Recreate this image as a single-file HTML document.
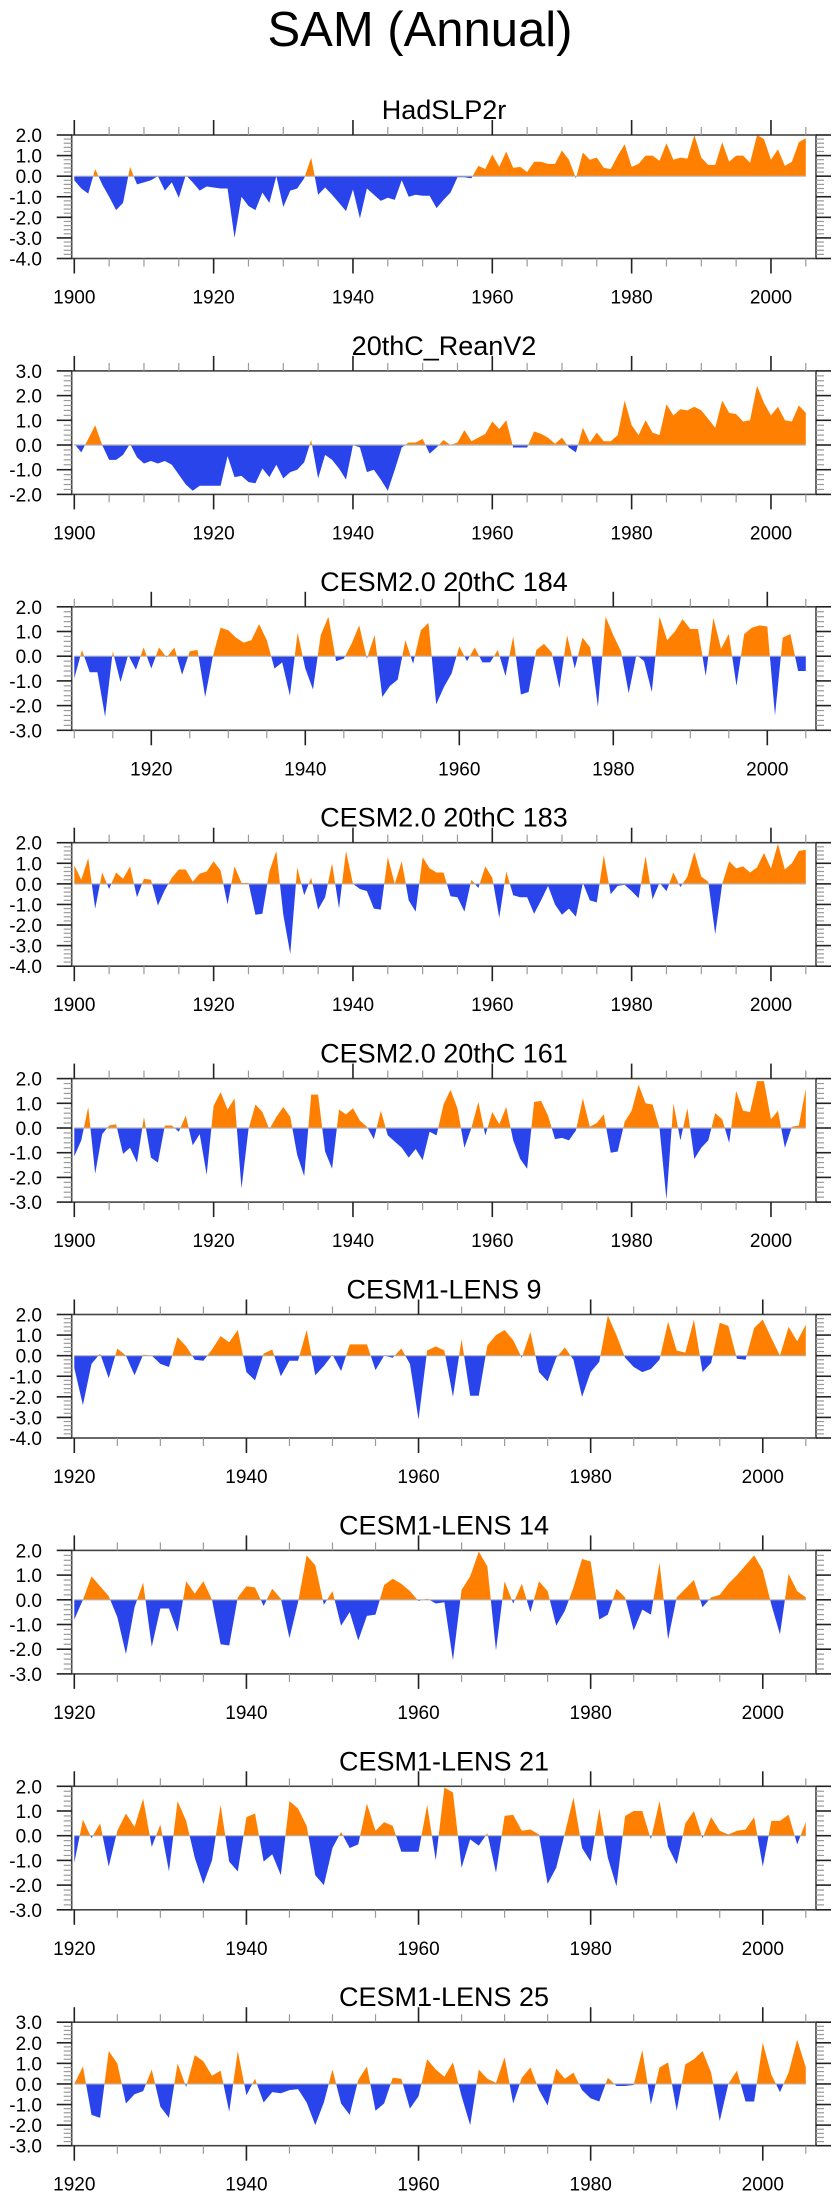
<!DOCTYPE html>
<html><head><meta charset="utf-8"><title>SAM (Annual)</title>
<style>
html,body{margin:0;padding:0;background:#fff;}
svg{display:block;font-family:"Liberation Sans",Arial,sans-serif;}
</style></head>
<body>
<svg id="chart" width="840" height="2200" viewBox="0 0 840 2200" xmlns="http://www.w3.org/2000/svg">
<text x="420" y="46" text-anchor="middle" font-size="49" fill="#000">SAM (Annual)</text>
</svg>
<script>
const titles = ["HadSLP2r","20thC_ReanV2","CESM2.0 20thC 184","CESM2.0 20thC 183","CESM2.0 20thC 161","CESM1-LENS 9","CESM1-LENS 14","CESM1-LENS 21","CESM1-LENS 25"];
const startYears = [1900,1900,1910,1900,1900,1920,1920,1920,1920];
const yMins = [-4,-2,-3,-4,-3,-4,-3,-3,-3];
const yMaxs = [2,3,2,2,2,2,2,2,3];
const xTickLabels = [1900,1920,1940,1960,1980,2000];

const hadslp2r = [-0.2,-0.6,-0.85,0.35,-0.4,-1.0,-1.65,-1.3,0.45,-0.4,-0.3,-0.2,0.0,-0.7,-0.3,-1.05,0.05,-0.3,-0.7,-0.5,-0.55,-0.6,-0.6,-3.0,-1.0,-1.45,-1.65,-0.8,-1.3,0.0,-1.5,-0.7,-0.6,-0.1,0.9,-0.9,-0.55,-0.9,-1.3,-1.7,-0.65,-2.05,-0.6,-0.9,-1.2,-1.05,-1.15,-0.2,-1.0,-0.9,-0.95,-0.95,-1.55,-1.15,-0.8,-0.05,-0.05,-0.1,0.5,0.35,1.05,0.45,1.2,0.4,0.45,0.2,0.7,0.7,0.6,0.6,1.25,0.8,-0.1,1.15,0.8,0.9,0.4,0.35,1.0,1.55,0.45,0.6,1.0,1.0,0.75,1.6,0.8,0.9,0.85,2.0,0.9,0.55,0.55,1.65,0.7,1.0,1.0,0.65,2.0,1.8,0.8,1.3,0.5,0.7,1.65,1.85];
const reanV2 = [0.05,-0.3,0.25,0.8,0.0,-0.6,-0.6,-0.4,0.05,-0.5,-0.75,-0.65,-0.75,-0.65,-0.8,-1.2,-1.6,-1.85,-1.65,-1.65,-1.65,-1.65,-0.45,-1.3,-1.25,-1.5,-1.55,-0.95,-1.3,-0.8,-1.35,-1.1,-1.0,-0.7,0.2,-1.35,-0.4,-0.6,-0.95,-1.4,0.0,-0.1,-1.1,-1.0,-1.4,-1.85,-1.0,-0.1,0.1,0.1,0.25,-0.35,-0.1,0.2,0.0,0.1,0.6,0.15,0.3,0.45,0.95,0.65,1.0,-0.1,-0.1,-0.1,0.55,0.45,0.3,0.05,0.3,-0.1,-0.3,0.7,0.1,0.5,0.15,0.15,0.4,1.8,0.8,0.4,1.0,0.5,0.4,1.65,1.2,1.45,1.4,1.55,1.4,1.05,0.7,1.8,1.3,1.25,0.95,1.0,2.4,1.7,1.2,1.55,1.0,0.95,1.6,1.3];
const cesm184 = [-0.9,0.25,-0.65,-0.65,-2.45,0.2,-1.05,0.05,-0.55,0.35,-0.5,0.35,-0.05,0.35,-0.75,0.2,0.25,-1.65,0.0,1.15,1.05,0.75,0.55,0.65,1.3,0.65,-0.5,-0.25,-1.6,0.95,-0.5,-1.35,0.85,1.6,-0.2,-0.1,0.5,1.25,-0.1,0.85,-1.65,-1.2,-0.95,0.65,-0.3,1.05,1.35,-1.95,-1.25,-0.7,0.4,-0.2,0.35,-0.25,-0.25,0.25,-0.8,0.8,-1.55,-1.45,0.25,0.5,0.15,-1.3,0.85,-0.5,0.75,0.35,-2.05,1.6,0.85,0.2,-1.5,0.05,-0.2,-1.45,1.6,0.65,1.0,1.5,1.1,1.1,-0.8,1.55,0.3,0.9,-1.2,0.9,1.15,1.25,1.2,-2.4,0.75,0.9,-0.6,-0.6];
const cesm183 = [0.9,0.2,1.25,-1.2,0.55,-0.25,0.55,0.25,0.85,-0.65,0.25,0.2,-1.05,-0.3,0.3,0.7,0.7,0.1,0.5,0.6,1.1,0.65,-1.0,0.85,0.05,0.05,-1.5,-1.45,0.6,1.6,-1.5,-3.4,0.8,-0.55,0.3,-1.25,-0.65,1.0,-1.2,1.6,0.0,-0.25,-0.35,-1.2,-1.25,1.3,0.0,1.1,-0.8,-1.35,1.3,0.75,0.55,0.55,-0.6,-0.65,-1.35,0.2,-0.2,0.85,0.3,-1.65,0.6,-0.55,-0.65,-0.65,-1.45,-0.8,-0.1,-1.0,-1.5,-1.2,-1.6,0.05,-0.8,-0.9,1.4,-0.5,-0.1,-0.05,-0.35,-0.7,1.35,-0.75,0.05,-0.35,0.55,-0.15,0.35,1.55,0.35,0.1,-2.45,0.0,1.1,0.75,0.85,0.55,0.8,1.5,0.75,1.95,0.7,1.0,1.6,1.65];
const cesm161 = [-1.15,-0.5,0.85,-1.85,-0.25,0.1,0.15,-1.05,-0.8,-1.4,0.45,-1.2,-1.4,0.1,0.1,-0.15,0.5,-0.7,-0.25,-1.9,0.9,1.45,0.75,1.2,-2.45,-0.05,0.95,0.65,-0.05,0.45,0.85,0.45,-1.1,-1.95,1.35,1.35,-0.95,-1.65,0.75,0.55,0.8,0.3,0.05,-0.45,0.7,-0.3,-0.55,-0.8,-1.2,-0.85,-1.3,-0.15,-0.3,0.95,1.55,0.8,-0.8,0.0,1.05,-0.3,0.65,0.15,0.85,-0.5,-1.25,-1.65,1.05,1.1,0.5,-0.45,-0.4,-0.5,-0.1,1.2,0.05,0.2,0.55,-1.0,-0.95,0.25,0.7,1.75,1.0,0.95,0.0,-2.9,1.0,-0.5,0.8,-1.25,-0.8,-0.5,0.6,0.35,-0.6,1.5,0.7,0.65,1.9,1.9,0.35,0.7,-0.8,0.05,0.1,1.6];
const lens9 = [-0.6,-2.4,-0.4,0.1,-1.1,0.35,0.0,-0.95,0.05,0.0,-0.4,-0.55,0.9,0.45,-0.2,-0.25,0.3,0.95,0.65,1.25,-0.8,-1.2,0.1,0.3,-1.0,-0.25,-0.25,1.25,-0.95,-0.5,0.05,-0.75,0.55,0.55,0.55,-0.7,0.0,-0.1,0.35,-0.4,-3.1,0.25,0.45,0.25,-2.0,0.8,-1.95,-1.95,0.5,1.0,1.25,0.75,-0.1,1.15,-0.8,-1.25,-0.1,0.4,-0.2,-2.0,-0.8,-0.3,1.95,1.0,-0.1,-0.55,-0.8,-0.65,-0.2,1.65,0.25,0.15,1.75,-0.8,-0.35,1.6,1.45,-0.15,-0.2,1.35,1.75,0.85,0.0,1.4,0.7,1.5];
const lens14 = [-0.8,0.0,0.95,0.55,0.15,-0.7,-2.2,-0.3,0.7,-1.9,-0.35,-0.35,-1.3,0.75,0.25,0.75,0.0,-1.8,-1.85,0.1,0.55,0.5,-0.25,0.45,0.05,-1.55,-0.1,1.8,1.4,-0.2,0.35,-1.05,-0.5,-1.65,-0.65,-0.6,0.6,0.85,0.65,0.35,-0.05,0.05,-0.15,-0.1,-2.45,0.4,0.95,1.95,1.35,-2.05,0.75,-0.15,0.65,-0.5,0.75,0.35,-1.05,-0.45,0.5,1.65,1.55,-0.8,-0.6,0.45,0.1,-1.25,-0.4,-0.6,1.5,-1.6,0.1,0.45,0.8,-0.3,0.1,0.2,0.65,1.0,1.4,1.8,1.2,-0.2,-1.4,1.05,0.35,0.1];
const lens21 = [-1.1,0.65,-0.1,0.5,-1.25,0.2,0.9,0.35,1.5,-0.45,0.45,-1.45,1.4,0.6,-0.9,-1.95,-1.0,1.25,-1.05,-1.45,0.75,0.9,-1.05,-0.75,-1.6,1.4,1.1,0.4,-1.6,-2.0,-0.5,0.15,-0.5,-0.35,1.3,0.2,0.55,0.4,-0.65,-0.65,-0.65,1.25,-1.0,1.95,1.75,-1.3,-0.15,-0.4,0.1,-1.5,0.8,0.85,0.2,0.25,0.05,-1.95,-1.3,0.1,1.55,-0.5,-1.05,1.1,-0.9,-2.05,0.8,1.0,1.0,-0.15,1.4,-0.45,-1.15,0.5,1.0,-0.1,0.75,0.2,0.05,0.2,0.25,0.75,-1.25,0.6,0.6,0.85,-0.35,0.55];
const lens25 = [0.0,0.85,-1.5,-1.65,1.6,1.0,-0.95,-0.5,-0.35,0.7,-1.1,-1.65,1.0,-0.15,1.4,1.1,0.4,0.65,-1.35,1.6,-0.55,0.25,-0.9,-0.4,-0.45,-0.3,-0.25,-0.9,-2.0,-0.9,0.7,-0.95,-1.5,0.2,0.85,-1.3,-0.95,0.3,0.25,-1.2,-0.6,1.2,0.7,0.35,1.05,-0.6,-2.0,0.7,0.25,0.05,1.3,-0.95,0.3,0.8,-0.3,-1.05,0.75,0.25,0.55,-0.3,-0.7,-0.85,0.3,-0.1,-0.1,-0.05,1.65,-1.0,0.8,1.05,-1.3,0.95,1.2,1.6,0.55,-1.8,0.0,0.65,-0.85,-0.85,2.0,0.45,-0.4,0.55,2.15,0.8];

const seriesList = [hadslp2r, reanV2, cesm184, cesm183, cesm161, lens9, lens14, lens21, lens25];
const panelNames = ["hadslp2r","20thc-reanv2","cesm2-184","cesm2-183","cesm2-161","cesm1-lens-9","cesm1-lens-14","cesm1-lens-21","cesm1-lens-25"];

const NS = "http://www.w3.org/2000/svg";
const svg = document.getElementById("chart");
const BOX_L = 71.7, BOX_R = 816, FIRST_X = 74.3, LAST_X = 805.8, LAST_YEAR = 2005;
const TOP0 = 135, STEP = 235.9, H = 123.5;
const ORANGE = "#FF8000", BLUE = "#2A44EC";

function mk(tag, attrs, parent) {
  const e = document.createElementNS(NS, tag);
  for (const k in attrs) e.setAttribute(k, attrs[k]);
  (parent || svg).appendChild(e);
  return e;
}

for (let p = 0; p < seriesList.length; p++) {
  const data = seriesList[p];
  const y0 = startYears[p];
  const top = TOP0 + STEP * p, bot = top + H;
  const ymin = yMins[p], ymax = yMaxs[p];
  const xs = yr => FIRST_X + (yr - y0) * (LAST_X - FIRST_X) / (LAST_YEAR - y0);
  const ys = v => top + (ymax - v) * H / (ymax - ymin);
  const g = mk("g", {});
  
  

  const t = mk("text", {x: 444, y: top - 16, "text-anchor": "middle", "font-size": 27, fill: "#000"}, g);
  t.textContent = titles[p];
  
  

  const cid = "c" + p;
  const defs = mk("defs", {}, g);
  const z = ys(0);
  const cpA = mk("clipPath", {id: cid + "a"}, defs);
  mk("rect", {x: BOX_L, y: top, width: BOX_R - BOX_L, height: z - top}, cpA);
  const cpB = mk("clipPath", {id: cid + "b"}, defs);
  mk("rect", {x: BOX_L, y: z, width: BOX_R - BOX_L, height: bot - z}, cpB);

  let d = "M" + xs(y0).toFixed(2) + "," + z.toFixed(2);
  for (let i = 0; i < data.length; i++) d += " L" + xs(y0 + i).toFixed(2) + "," + ys(data[i]).toFixed(2);
  d += " L" + xs(y0 + data.length - 1).toFixed(2) + "," + z.toFixed(2) + " Z";
  const pos = mk("path", {d: d, fill: ORANGE, "clip-path": "url(#" + cid + "a)"}, g);
  
  
  const neg = mk("path", {d: d, fill: BLUE, "clip-path": "url(#" + cid + "b)"}, g);
  
  

  const zl = mk("line", {x1: FIRST_X, x2: LAST_X, y1: z, y2: z, stroke: "#b0b0b0", "stroke-width": 1.2}, g);
  
  

  const fr = mk("rect", {x: BOX_L, y: top, width: BOX_R - BOX_L, height: H, fill: "none", stroke: "#444", "stroke-width": 1.6}, g);
  
  

  for (let v = ymin; v <= ymax + 1e-6; v += 0.2) {
    const vv = Math.round(v * 10) / 10;
    const yy = ys(vv);
    const major = Math.abs(vv - Math.round(vv)) < 1e-6;
    const len = major ? 15 : 8, col = major ? "#222" : "#9a9a9a", w = major ? 1.6 : 1.2;
    mk("line", {x1: BOX_L - len, x2: BOX_L, y1: yy, y2: yy, stroke: col, "stroke-width": w}, g);
    mk("line", {x1: BOX_R, x2: BOX_R + len, y1: yy, y2: yy, stroke: col, "stroke-width": w}, g);
    if (major) {
      const lt = mk("text", {x: 42, y: yy + 7, "text-anchor": "end", "font-size": 19, fill: "#000"}, g);
      lt.textContent = vv.toFixed(1);
      
      
    }
  }
  const xmaxYear = y0 + (BOX_R - FIRST_X) / ((LAST_X - FIRST_X) / (LAST_YEAR - y0));
  for (let yr = Math.ceil(y0 / 5) * 5; yr <= xmaxYear; yr += 5) {
    const xx = xs(yr);
    if (xx < BOX_L || xx > BOX_R) continue;
    const major = yr % 20 === 0;
    const len = major ? 15 : 8, col = major ? "#222" : "#9a9a9a", w = major ? 1.6 : 1.2;
    mk("line", {x1: xx, x2: xx, y1: top - len, y2: top, stroke: col, "stroke-width": w}, g);
    mk("line", {x1: xx, x2: xx, y1: bot, y2: bot + len, stroke: col, "stroke-width": w}, g);
  }
  for (const yr of xTickLabels) {
    if (yr < y0) continue;
    const xx = xs(yr);
    const xt = mk("text", {x: xx, y: bot + 45, "text-anchor": "middle", "font-size": 19, fill: "#000"}, g);
    xt.textContent = String(yr);
    
    
  }
}
</script>
</body></html>
